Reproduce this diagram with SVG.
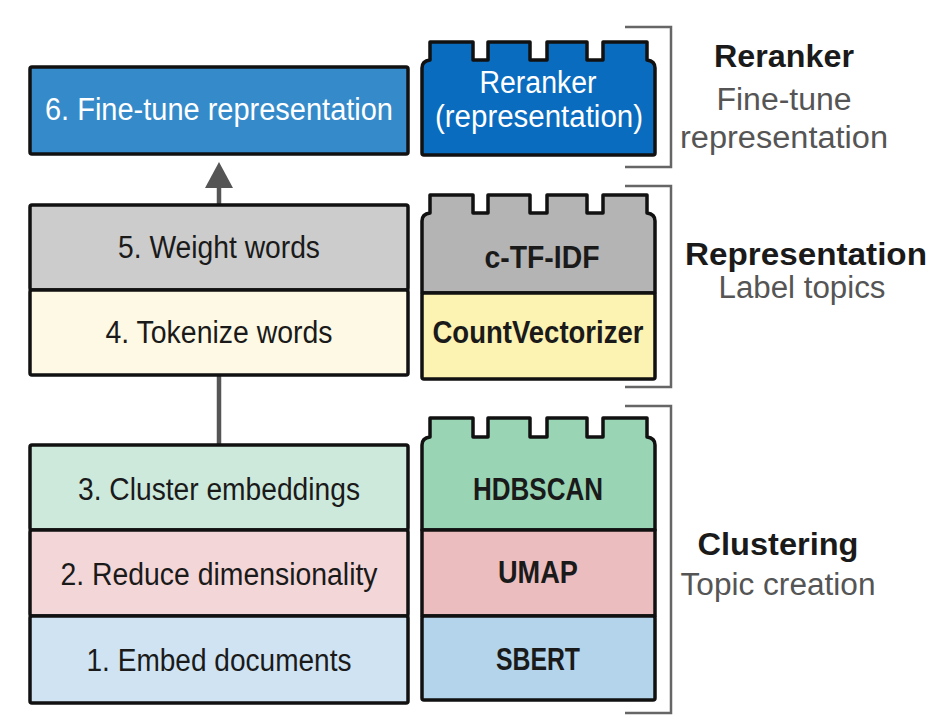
<svg xmlns="http://www.w3.org/2000/svg" width="944" height="715" viewBox="0 0 944 715">
<style>
.box{stroke:#111;stroke-width:3.5;stroke-linejoin:round}
.div{stroke:#111;stroke-width:3.5}
.t{font-family:"Liberation Sans Narrow","Liberation Sans",Arial,sans-serif;font-size:31px;text-anchor:middle;fill:#1a1a1a}
.b{font-weight:bold}
.w{fill:#ffffff}
.g{fill:#555555}
.brk{fill:none;stroke:#666;stroke-width:2.5}
.con{stroke:#555;stroke-width:4.5;fill:none}
</style>
<rect width="944" height="715" fill="#ffffff"/>
<g id="connectors">
<line class="con" x1="219" y1="445" x2="219" y2="375"/>
<line class="con" x1="219" y1="205" x2="219" y2="185"/>
<polygon points="205,188 233,188 219,162" fill="#555"/>
</g>
<g id="step6">
<rect class="box" x="30" y="67" width="378" height="87" rx="2" fill="#358bca"/>
<text class="t w" x="219" y="120" textLength="348" lengthAdjust="spacingAndGlyphs">6. Fine-tune representation</text>
</g>
<g id="steps45">
<rect class="box" x="30" y="205" width="378" height="85" rx="2" fill="#cccccc"/>
<rect class="box" x="30" y="290" width="378" height="85" rx="2" fill="#fdf9e4"/>
<text class="t" x="219" y="258" textLength="202" lengthAdjust="spacingAndGlyphs">5. Weight words</text>
<text class="t" x="219" y="343" textLength="227" lengthAdjust="spacingAndGlyphs">4. Tokenize words</text>
</g>
<g id="steps123">
<rect class="box" x="30" y="445" width="378" height="85" rx="2" fill="#cde9dc"/>
<rect class="box" x="30" y="530" width="378" height="86" rx="2" fill="#f3d6d8"/>
<rect class="box" x="30" y="616" width="378" height="87" rx="2" fill="#cfe3f2"/>
<text class="t" x="219" y="500" textLength="282" lengthAdjust="spacingAndGlyphs">3. Cluster embeddings</text>
<text class="t" x="219" y="585" textLength="317" lengthAdjust="spacingAndGlyphs">2. Reduce dimensionality</text>
<text class="t" x="219" y="671" textLength="265" lengthAdjust="spacingAndGlyphs">1. Embed documents</text>
</g>
<g id="reranker-block">
<path class="box" fill="#0a6cbf" d="M422 153 L422 68 Q422 61 430 60 L430 42 L473 42 L473 60 L488 60 L488 42 L530 42 L530 60 L547 60 L547 42 L587 42 L587 60 L603 60 L603 42 L647 42 L647 60 Q655 61 655 68 L655 153 Q655 155 653 155 L424 155 Q422 155 422 153 Z"/>
<text class="t w" x="538" y="93" textLength="117" lengthAdjust="spacingAndGlyphs">Reranker</text>
<text class="t w" x="539" y="127" textLength="208" lengthAdjust="spacingAndGlyphs">(representation)</text>
</g>
<g id="representation-block">
<path class="box" fill="#b4b4b4" d="M422 293 L422 221 Q422 214 430 213 L430 195 L473 195 L473 213 L488 213 L488 195 L530 195 L530 213 L547 213 L547 195 L587 195 L587 213 L603 213 L603 195 L647 195 L647 213 Q655 214 655 221 L655 293 Z"/>
<rect class="box" x="422" y="293" width="233" height="86" rx="2" fill="#fcf2b1"/>
<text class="t b" x="542" y="268" textLength="115" lengthAdjust="spacingAndGlyphs">c-TF-IDF</text>
<text class="t b" x="538" y="343" textLength="211" lengthAdjust="spacingAndGlyphs">CountVectorizer</text>
</g>
<g id="clustering-block">
<path class="box" fill="#99d4b5" d="M422 530 L422 445 Q422 438 430 437 L430 418 L473 418 L473 437 L488 437 L488 418 L530 418 L530 437 L547 437 L547 418 L587 418 L587 437 L603 437 L603 418 L647 418 L647 437 Q655 438 655 445 L655 530 Z"/>
<rect class="box" x="422" y="530" width="233" height="86" fill="#ecbdbf"/>
<rect class="box" x="422" y="616" width="233" height="84" rx="2" fill="#b3d4ea"/>
<text class="t b" x="538" y="500" textLength="130" lengthAdjust="spacingAndGlyphs">HDBSCAN</text>
<text class="t b" x="538" y="583" textLength="80" lengthAdjust="spacingAndGlyphs">UMAP</text>
<text class="t b" x="538" y="670" textLength="84" lengthAdjust="spacingAndGlyphs">SBERT</text>
</g>
<g id="reranker-label">
<polyline class="brk" points="625,27 671,27 671,167 625,167"/>
<text class="t b" x="784" y="67" font-size="33" textLength="140" lengthAdjust="spacingAndGlyphs">Reranker</text>
<text class="t g" x="784" y="110" font-size="33" textLength="135" lengthAdjust="spacingAndGlyphs">Fine-tune</text>
<text class="t g" x="784" y="148" font-size="33" textLength="208" lengthAdjust="spacingAndGlyphs">representation</text>
</g>
<g id="representation-label">
<polyline class="brk" points="625,186 671,186 671,387 625,387"/>
<text class="t b" x="806" y="265" font-size="33" textLength="242" lengthAdjust="spacingAndGlyphs">Representation</text>
<text class="t g" x="802" y="298" font-size="33" textLength="167" lengthAdjust="spacingAndGlyphs">Label topics</text>
</g>
<g id="clustering-label">
<polyline class="brk" points="625,406 671,406 671,713 625,713"/>
<text class="t b" x="778" y="555" font-size="33" textLength="161" lengthAdjust="spacingAndGlyphs">Clustering</text>
<text class="t g" x="778" y="595" font-size="33" textLength="195" lengthAdjust="spacingAndGlyphs">Topic creation</text>
</g>
</svg>
